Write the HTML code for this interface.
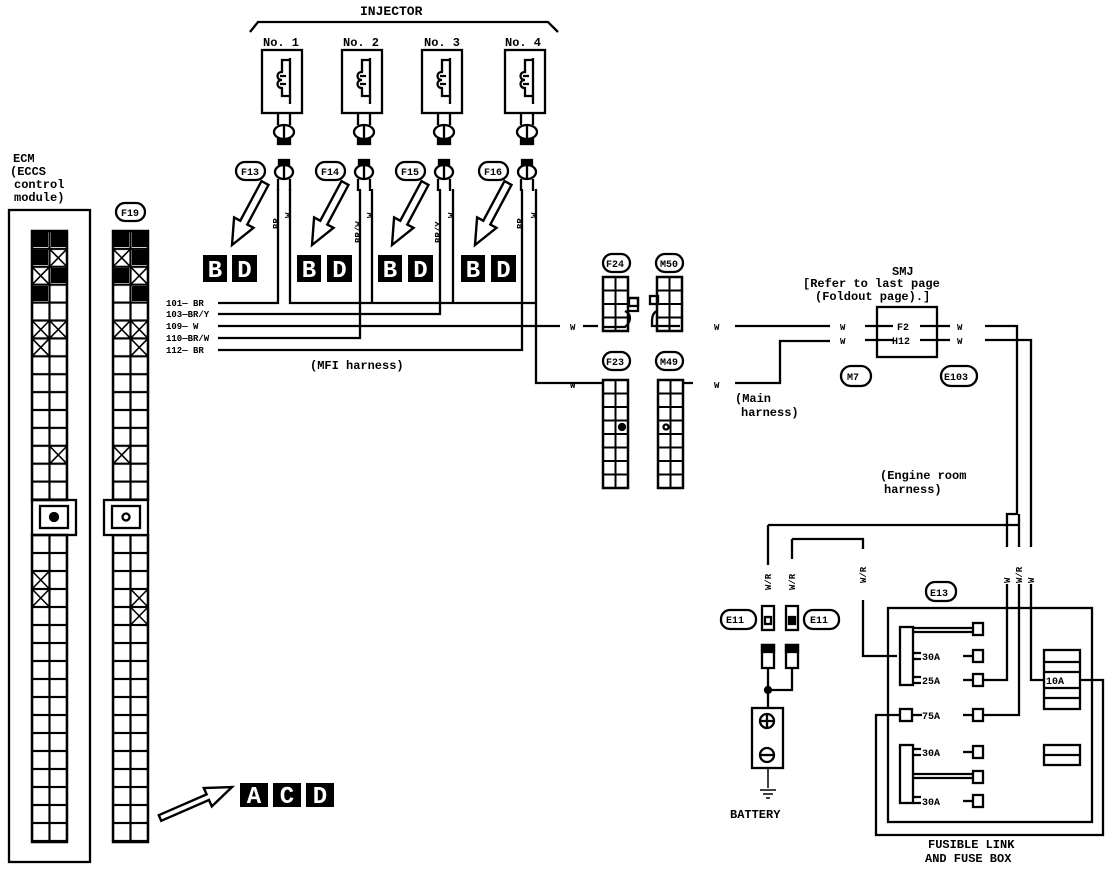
<!DOCTYPE html>
<html><head><meta charset="utf-8"><style>
html,body{margin:0;padding:0;background:#fff;}
svg{display:block;}
text{font-family:"Liberation Mono",monospace;font-weight:bold;fill:#000;}
</style></head><body>
<svg width="1120" height="870" viewBox="0 0 1120 870" xmlns="http://www.w3.org/2000/svg">
<defs>
<pattern id="cu" width="17.5" height="17.9" patternUnits="userSpaceOnUse"><rect x="0" y="0" width="17.5" height="17.9" fill="#fff" stroke="#000" stroke-width="2.2"/></pattern>
<pattern id="cl" width="17.5" height="18" patternUnits="userSpaceOnUse"><rect x="0" y="0" width="17.5" height="18" fill="#fff" stroke="#000" stroke-width="2.2"/></pattern>
<pattern id="cs" width="12.5" height="13.5" patternUnits="userSpaceOnUse"><rect x="0" y="0" width="12.5" height="13.5" fill="#fff" stroke="#000" stroke-width="2"/></pattern>
</defs>
<g fill="none" stroke="#000" stroke-width="2.3">
<!-- ECM -->
<rect x="9" y="210" width="81" height="652"/>
<g transform="translate(32,231)"><rect width="35" height="269" fill="url(#cu)"/><rect width="35" height="269"/></g>
<g transform="translate(32,535)"><rect width="35" height="307" fill="url(#cl)"/><rect width="35" height="307"/></g>
<rect x="32" y="500" width="44" height="35"/><rect x="40" y="506" width="28" height="22"/>
<circle cx="54" cy="517" r="4" fill="#000"/>
<!-- F19 -->
<g transform="translate(113,231)"><rect width="35" height="269" fill="url(#cu)"/><rect width="35" height="269"/></g>
<g transform="translate(113,535)"><rect width="35" height="307" fill="url(#cl)"/><rect width="35" height="307"/></g>
<rect x="104" y="500" width="44" height="35" fill="#fff"/><rect x="112" y="506" width="28" height="22"/>
<circle cx="126" cy="517" r="3.5"/>
<g stroke-width="1.6">
<path d="M49.5 248.9l17.5 17.9M67 248.9l-17.5 17.9 M32 266.8l17.5 17.9M49.5 266.8l-17.5 17.9 M32 320.5l17.5 17.9M49.5 320.5l-17.5 17.9 M49.5 320.5l17.5 17.9M67 320.5l-17.5 17.9 M32 338.4l17.5 17.9M49.5 338.4l-17.5 17.9 M49.5 446l17.5 17.9M67 446l-17.5 17.9 M32 571l17.5 18M49.5 571l-17.5 18 M32 589l17.5 18M49.5 589l-17.5 18"/>
<path d="M113 248.9l17.5 17.9M130.5 248.9l-17.5 17.9 M130.5 266.8l17.5 17.9M148 266.8l-17.5 17.9 M113 320.5l17.5 17.9M130.5 320.5l-17.5 17.9 M130.5 320.5l17.5 17.9M148 320.5l-17.5 17.9 M130.5 338.4l17.5 17.9M148 338.4l-17.5 17.9 M113 446l17.5 17.9M130.5 446l-17.5 17.9 M130.5 589l17.5 18M148 589l-17.5 18 M130.5 607l17.5 18M148 607l-17.5 18"/>
</g>
<g fill="#000" stroke="none">
<rect x="33" y="232" width="15" height="15"/><rect x="51" y="232" width="15" height="15"/><rect x="33" y="250" width="15" height="15"/><rect x="51" y="268" width="15" height="15"/><rect x="33" y="286" width="15" height="15"/>
<rect x="114" y="232" width="15" height="15"/><rect x="132" y="232" width="15" height="15"/><rect x="132" y="250" width="15" height="15"/><rect x="114" y="268" width="15" height="15"/><rect x="132" y="286" width="15" height="15"/>
</g>
<!-- injector bracket -->
<path d="M250 32l8-10h290l10 10"/>
<!-- injectors -->
<g id="inj">
<rect x="262" y="50" width="40" height="63"/>
<path d="M290 58v46 M290 60h-8v12c-6 0-6 8 0 8c-6 0-6 8 0 8v8h8"/>
<path d="M280 84h6 M280 76h6"/>
<path d="M278 113v12M290 113v12"/>
<ellipse cx="284" cy="132" rx="10" ry="7"/><path d="M284 125v14"/>
<rect x="278" y="139" width="12" height="5" fill="#000"/>
<rect x="279" y="160" width="10" height="5" fill="#000"/>
<ellipse cx="284" cy="172" rx="9" ry="7"/><path d="M284 165v14 M278 179v12M290 179v12"/>
</g>
<use href="#inj" x="80"/><use href="#inj" x="160"/><use href="#inj" x="243"/>
<!-- labels ovals -->
<rect x="236" y="162" width="29" height="18" rx="9"/>
<rect x="316" y="162" width="29" height="18" rx="9"/>
<rect x="396" y="162" width="29" height="18" rx="9"/>
<rect x="479" y="162" width="29" height="18" rx="9"/>
<rect x="116" y="203" width="29" height="18" rx="9"/>
<!-- hollow arrows -->
<g stroke-width="2.4" stroke-linejoin="miter">
<polygon id="ar" points="261.5,181.1 240.3,220.7 234.1,217.4 232,245 253.5,227.8 247.3,224.5 268.5,184.9"/>
<use href="#ar" x="80"/><use href="#ar" x="160"/><use href="#ar" x="243"/>
<polygon points="158.8,815.2 206.6,794.4 203.8,788 232,787 211.8,806.4 209,800 161.2,820.8"/>
</g>
<!-- MFI wires -->
<path d="M218 303h60v-114 M290 189v114h246 M360 189v149h-142 M372 189v114 M440 189v125h-222 M453 189v114 M522 189v161h-304 M536 189v194h62 M218 326h342"/>
<path d="M583 326h15 M735 326h95 M735 383h45v-42h50"/>
<!-- F24/M50 -->
<g transform="translate(603,277)"><rect width="25" height="54" fill="url(#cs)"/><rect width="25" height="54"/></g>
<path d="M628 298h10v13h-10 M625 311c8 4 5 12 0 16h-22" />
<rect x="629" y="298" width="9" height="8"/>
<g transform="translate(657,277)"><rect width="25" height="54" fill="url(#cs)"/><rect width="25" height="54"/></g>
<rect x="650" y="296" width="8" height="8"/>
<path d="M657 311c-5 2-5 8-5 12v3h28"/>
<rect x="603" y="254" width="27" height="18" rx="9"/>
<rect x="656" y="254" width="27" height="18" rx="9"/>
<!-- F23/M49 -->
<g transform="translate(603,380)"><rect width="25" height="108" fill="url(#cs)"/><rect width="25" height="108"/></g>
<circle cx="622" cy="427" r="3" fill="#000"/>
<g transform="translate(658,380)"><rect width="25" height="108" fill="url(#cs)"/><rect width="25" height="108"/></g>
<circle cx="666" cy="427" r="2.5"/>
<path d="M598 383h5 M683 383h10"/>
<rect x="603" y="352" width="27" height="18" rx="9"/>
<rect x="656" y="352" width="27" height="18" rx="9"/>
<!-- SMJ -->
<rect x="877" y="307" width="60" height="50"/>
<path d="M865 326h28 M920 326h30 M865 340h28 M920 340h30"/>
<rect x="841" y="366" width="30" height="20" rx="10"/>
<rect x="941" y="366" width="36" height="20" rx="10"/>
<path d="M985 326h32v188h-10v33 M985 340h46v207"/>
<path d="M1019 514v33 M768 525h251 M792 539h71v10"/>
<path d="M768 525v40 M792 539v20 M863 600v56h34 M1007 584v96h-25 M1019 584v131h-36 M1031 584v96h13"/>
<!-- E11 -->
<rect x="762" y="606" width="12" height="24"/><rect x="765" y="617" width="6" height="7"/>
<rect x="786" y="606" width="12" height="24"/><rect x="789" y="617" width="6" height="7" fill="#000"/>
<rect x="762" y="645" width="12" height="23"/><rect x="762" y="645" width="12" height="7" fill="#000"/>
<rect x="786" y="645" width="12" height="23"/><rect x="786" y="645" width="12" height="7" fill="#000"/>
<path d="M768 668v40 M792 668v22h-24"/>
<circle cx="768" cy="690" r="3" fill="#000"/>
<rect x="721" y="610" width="35" height="19" rx="9"/>
<rect x="804" y="610" width="35" height="19" rx="9"/>
<!-- battery -->
<rect x="752" y="708" width="31" height="60"/>
<circle cx="767" cy="721" r="7"/><path d="M760 721h14M767 714v14"/>
<circle cx="767" cy="755" r="7"/><path d="M760 755h14"/>
<path d="M768 768v20 M760 790h16 M763 794h10 M766 798h4" stroke-width="1.5"/>
<!-- fuse box -->
<rect x="888" y="608" width="204" height="214"/>
<path d="M900 715h-24v120h227v-155h-23"/>
<rect x="900" y="627" width="13" height="58"/>
<path d="M913 628h60 M913 632h60" />
<rect x="973" y="623" width="10" height="12"/>
<path d="M913 653h8M913 659h8"/><rect x="973" y="650" width="10" height="12"/><path d="M963 656h10"/>
<path d="M913 677h8M913 683h8"/><rect x="973" y="674" width="10" height="12"/><path d="M963 680h10"/>
<rect x="900" y="709" width="12" height="12"/><path d="M912 715h10"/>
<path d="M963 715h10"/><rect x="973" y="709" width="10" height="12"/>
<rect x="900" y="745" width="13" height="58"/>
<path d="M913 749h8M913 755h8"/><rect x="973" y="746" width="10" height="12"/><path d="M963 752h10"/>
<path d="M913 774h60M913 778h60"/><rect x="973" y="771" width="10" height="12"/>
<path d="M913 797h8M913 803h8"/><rect x="973" y="795" width="10" height="12"/><path d="M963 801h10"/>
<rect x="1044" y="650" width="36" height="59"/><path d="M1044 662h36M1044 672h36M1044 688h36M1044 698h36"/>
<rect x="1044" y="745" width="36" height="20"/><path d="M1044 755h36"/>
<rect x="926" y="582" width="30" height="19" rx="9"/>
</g>
<!-- BD boxes -->
<g fill="#000">
<rect x="203" y="255" width="24" height="27"/><rect x="232" y="255" width="25" height="27"/>
<rect x="297" y="255" width="24" height="27"/><rect x="327" y="255" width="25" height="27"/>
<rect x="378" y="255" width="24" height="27"/><rect x="408" y="255" width="25" height="27"/>
<rect x="461" y="255" width="24" height="27"/><rect x="491" y="255" width="25" height="27"/>
<rect x="240" y="783" width="28" height="24"/><rect x="273" y="783" width="28" height="24"/><rect x="306" y="783" width="28" height="24"/>
</g>
<g font-size="24" text-anchor="middle" style="font-family:'Liberation Sans',sans-serif;font-weight:normal">
<text x="215" y="277" style="fill:#fff">B</text><text x="244.5" y="277" style="fill:#fff">D</text>
<text x="309" y="277" style="fill:#fff">B</text><text x="339.5" y="277" style="fill:#fff">D</text>
<text x="390" y="277" style="fill:#fff">B</text><text x="420.5" y="277" style="fill:#fff">D</text>
<text x="473" y="277" style="fill:#fff">B</text><text x="503.5" y="277" style="fill:#fff">D</text>
<text x="254" y="803" style="fill:#fff">A</text><text x="287" y="803" style="fill:#fff">C</text><text x="320" y="803" style="fill:#fff">D</text>
</g>
<!-- text -->
<g font-size="12">
<text x="360" y="15" font-size="13">INJECTOR</text>
<text x="263" y="46">No. 1</text><text x="343" y="46">No. 2</text><text x="424" y="46">No. 3</text><text x="505" y="46">No. 4</text>
<text x="13" y="162">ECM</text><text x="10" y="175">(ECCS</text><text x="14" y="188">control</text><text x="14" y="201">module)</text>
<text x="121" y="216" font-size="10">F19</text>
<text x="241" y="175" font-size="10">F13</text><text x="321" y="175" font-size="10">F14</text><text x="401" y="175" font-size="10">F15</text><text x="484" y="175" font-size="10">F16</text>
<g font-size="9">
<text x="166" y="306">101— BR</text>
<text x="166" y="317">103—BR/Y</text>
<text x="166" y="329">109—   W</text>
<text x="166" y="341">110—BR/W</text>
<text x="166" y="353">112— BR</text>
</g>
<g font-size="9">
<text transform="translate(279,229) rotate(-90)">BR</text><text transform="translate(291,218) rotate(-90)">W</text>
<text transform="translate(361,243) rotate(-90)">BR/W</text><text transform="translate(373,218) rotate(-90)">W</text>
<text transform="translate(441,243) rotate(-90)">BR/Y</text><text transform="translate(454,218) rotate(-90)">W</text>
<text transform="translate(523,229) rotate(-90)">BR</text><text transform="translate(537,218) rotate(-90)">W</text>
</g>
<text x="310" y="369">(MFI harness)</text>
<text x="570" y="330" font-size="9">W</text><text x="714" y="330" font-size="9">W</text>
<text x="570" y="388" font-size="9">W</text><text x="714" y="388" font-size="9">W</text>
<text x="606" y="267" font-size="10">F24</text><text x="660" y="267" font-size="10">M50</text>
<text x="606" y="365" font-size="10">F23</text><text x="660" y="365" font-size="10">M49</text>
<text x="735" y="402">(Main</text><text x="741" y="416">harness)</text>
<text x="892" y="275">SMJ</text>
<text x="803" y="287">[Refer to last page</text>
<text x="815" y="300">(Foldout page).]</text>
<text x="840" y="330" font-size="9">W</text><text x="840" y="344" font-size="9">W</text>
<text x="957" y="330" font-size="9">W</text><text x="957" y="344" font-size="9">W</text>
<text x="897" y="330" font-size="10">F2</text><text x="892" y="344" font-size="10">H12</text>
<text x="847" y="380" font-size="10">M7</text><text x="944" y="380" font-size="10">E103</text>
<text x="880" y="479">(Engine room</text><text x="884" y="493">harness)</text>
<g font-size="9">
<text transform="translate(771,590) rotate(-90)">W/R</text>
<text transform="translate(795,590) rotate(-90)">W/R</text>
<text transform="translate(866,583) rotate(-90)">W/R</text>
<text transform="translate(1010,583) rotate(-90)">W</text>
<text transform="translate(1022,583) rotate(-90)">W/R</text>
<text transform="translate(1034,583) rotate(-90)">W</text>
</g>
<text x="726" y="623" font-size="10">E11</text><text x="810" y="623" font-size="10">E11</text>
<text x="930" y="596" font-size="10">E13</text>
<g font-size="10">
<text x="922" y="660">30A</text><text x="922" y="684">25A</text><text x="922" y="719">75A</text>
<text x="922" y="756">30A</text><text x="922" y="805">30A</text>
<text x="1046" y="684">10A</text>
</g>
<text x="730" y="818">BATTERY</text>
<text x="928" y="848">FUSIBLE LINK</text>
<text x="925" y="862">AND FUSE BOX</text>
</g>
</svg>
</body></html>
